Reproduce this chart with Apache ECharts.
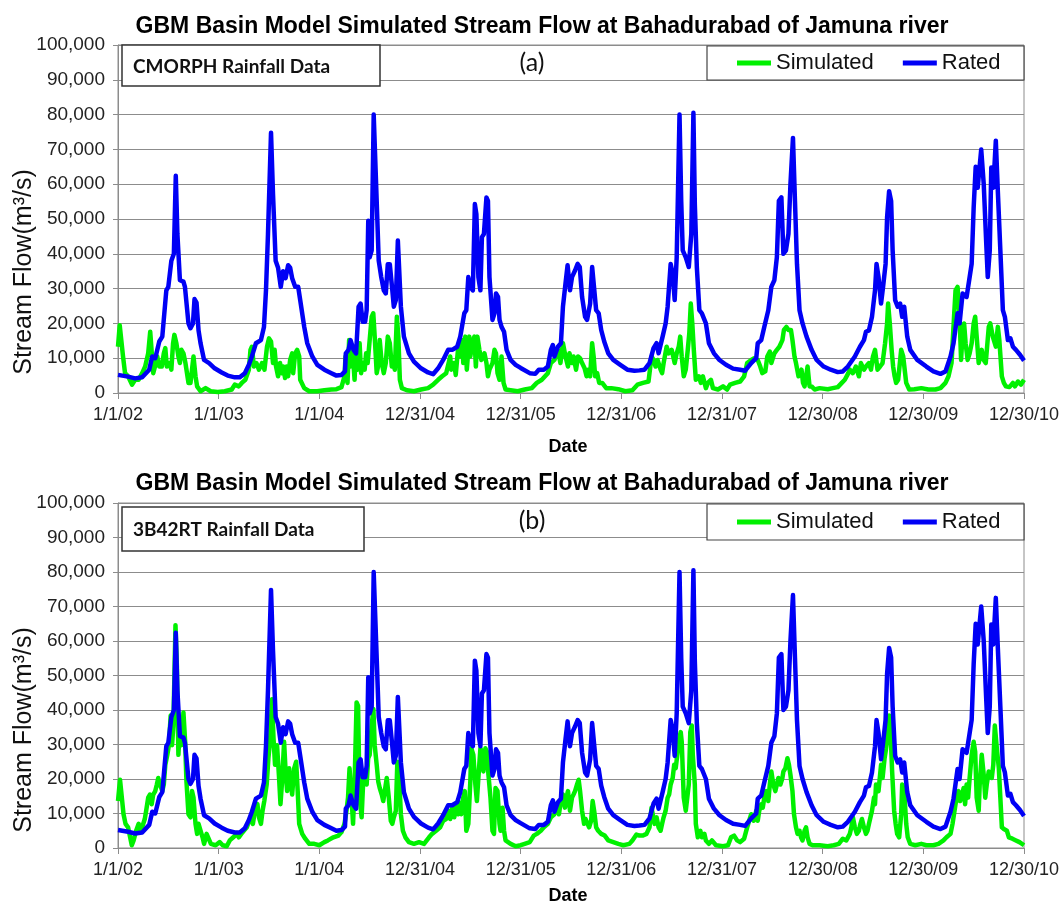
<!DOCTYPE html>
<html>
<head>
<meta charset="utf-8">
<script src="https://cdn.jsdelivr.net/npm/echarts@6/dist/echarts.min.js"></script>
<style>
    html, body { margin: 0; padding: 0; background: #fff; }
    #main { width: 1063px; height: 906px; }
</style>
</head>
<body>
<div id="main"></div>
<script>
const formatter = new Intl.NumberFormat("en-US");

// x = years since 1/1/02, y = stream flow (m3/s)
const dateLabels = ["1/1/02", "1/1/03", "1/1/04", "12/31/04", "12/31/05", "12/31/06", "12/31/07", "12/30/08", "12/30/09", "12/30/10"];

const rated = [
    [0, 5200], [0.1, 4700], [0.17, 4200], [0.24, 4500], [0.31, 6700], [0.34, 10500], [0.37, 10000], [0.41, 14800],
    [0.44, 16200], [0.48, 29500], [0.5, 30500], [0.53, 38000], [0.555, 40000], [0.574, 62400], [0.59, 45700],
    [0.615, 32400], [0.65, 32000], [0.665, 30500], [0.7, 20000], [0.72, 18600], [0.745, 20000], [0.76, 27000],
    [0.78, 26000], [0.8, 18000], [0.82, 14300], [0.855, 9500], [0.905, 8600], [0.96, 7100], [1.03, 5900],
    [1.09, 5000], [1.16, 4500], [1.21, 4500], [1.26, 5700], [1.3, 8100], [1.33, 10500], [1.37, 14300],
    [1.42, 15200], [1.45, 19000], [1.47, 29500], [1.49, 45700], [1.52, 74800], [1.54, 57000], [1.566, 38000],
    [1.59, 36000], [1.617, 30500], [1.64, 35000], [1.665, 33000], [1.69, 36700], [1.71, 36000], [1.73, 33000],
    [1.76, 30500], [1.79, 30500], [1.81, 26700], [1.85, 19000], [1.88, 14300], [1.93, 10500], [1.98, 8100],
    [2.05, 6700], [2.12, 5700], [2.17, 5000], [2.22, 5200], [2.255, 6200], [2.263, 11400], [2.29, 12400],
    [2.31, 15200], [2.325, 15700], [2.34, 12400], [2.365, 11400], [2.39, 24800], [2.41, 25700], [2.43, 20500],
    [2.455, 20500], [2.47, 23800], [2.486, 49500], [2.5, 39000], [2.52, 41000], [2.54, 80000], [2.564, 60000],
    [2.59, 38000], [2.615, 33300], [2.64, 29500], [2.66, 28600], [2.68, 37000], [2.7, 37000], [2.725, 29500],
    [2.74, 24800], [2.76, 26700], [2.78, 43800], [2.795, 43800], [2.81, 24800], [2.84, 16200], [2.89, 11400],
    [2.94, 9000], [3.01, 7100], [3.08, 5900], [3.13, 5400], [3.18, 7100], [3.23, 9500], [3.28, 12400],
    [3.32, 12400], [3.37, 13300], [3.4, 16200], [3.44, 22900], [3.46, 23800], [3.48, 33300], [3.5, 30500],
    [3.525, 29500], [3.545, 54300], [3.56, 51400], [3.58, 33300], [3.6, 29500], [3.615, 44800], [3.635, 45700],
    [3.66, 56200], [3.675, 55200], [3.69, 33300], [3.72, 21000], [3.74, 22900], [3.755, 28600], [3.775, 27600],
    [3.79, 21000], [3.81, 19000], [3.835, 17600], [3.86, 12400], [3.9, 9500], [3.95, 8100], [4.0, 7200],
    [4.09, 5700], [4.145, 5500], [4.18, 6700], [4.23, 6700], [4.27, 7600], [4.3, 12400], [4.32, 13800],
    [4.335, 10500], [4.37, 13300], [4.4, 14300], [4.42, 24800], [4.445, 31400], [4.466, 36700], [4.49, 29500],
    [4.51, 33300], [4.54, 35200], [4.566, 37100], [4.587, 36200], [4.61, 27600], [4.64, 21900], [4.66, 21000],
    [4.69, 25700], [4.71, 36200], [4.725, 36200], [4.75, 23800], [4.775, 22900], [4.8, 18100], [4.83, 14800],
    [4.87, 11400], [4.92, 9500], [4.99, 8100], [5.06, 6700], [5.13, 6400], [5.18, 6500], [5.23, 6700],
    [5.28, 8600], [5.32, 12900], [5.35, 14300], [5.37, 11400], [5.41, 16200], [5.44, 20000], [5.46, 24800],
    [5.49, 37100], [5.51, 34300], [5.53, 26700], [5.55, 39000], [5.578, 80000], [5.595, 55000], [5.61, 41000],
    [5.64, 39000], [5.67, 36200], [5.695, 45700], [5.716, 80500], [5.73, 54300], [5.75, 36200], [5.775, 23800],
    [5.8, 22900], [5.84, 20000], [5.87, 14300], [5.92, 11400], [5.975, 9500], [6.04, 8100], [6.11, 7000],
    [6.18, 6700], [6.23, 6400], [6.29, 8600], [6.34, 10000], [6.355, 14300], [6.39, 15200], [6.42, 19000],
    [6.46, 23800], [6.49, 30500], [6.52, 32400], [6.545, 39000], [6.565, 55200], [6.59, 56200], [6.61, 40000],
    [6.635, 41000], [6.66, 45700], [6.68, 60000], [6.705, 73300], [6.725, 55000], [6.745, 37000], [6.77, 23800],
    [6.8, 20000], [6.84, 16200], [6.89, 12400], [6.94, 9500], [7.01, 7600], [7.08, 6700], [7.15, 6000],
    [7.2, 6200], [7.25, 7600], [7.32, 10500], [7.37, 13300], [7.41, 15200], [7.43, 17600], [7.46, 18000],
    [7.49, 21900], [7.52, 29500], [7.535, 37100], [7.555, 33300], [7.58, 25700], [7.6, 30500], [7.625, 37100],
    [7.64, 50500], [7.66, 58000], [7.68, 55200], [7.695, 41000], [7.72, 26700], [7.745, 24800], [7.77, 25700],
    [7.79, 21900], [7.81, 24800], [7.84, 16200], [7.87, 12400], [7.94, 9500], [8.03, 7600], [8.1, 6200],
    [8.17, 5500], [8.22, 6200], [8.27, 10500], [8.3, 14300], [8.34, 22900], [8.36, 20000], [8.39, 28600],
    [8.43, 27600], [8.46, 33300], [8.48, 37100], [8.5, 53300], [8.52, 65000], [8.54, 59000], [8.575, 70000],
    [8.6, 60000], [8.625, 42900], [8.64, 33300], [8.66, 41000], [8.675, 64800], [8.695, 59000], [8.72, 72500],
    [8.74, 58000], [8.765, 41000], [8.79, 23800], [8.81, 21900], [8.84, 15200], [8.865, 15700], [8.89, 13300],
    [8.92, 12400], [8.96, 11000], [9.0, 9300]
];

// simulated flow, CMORPH rainfall (panel a)
const simulatedCmorph = [
    [0, 13300], [0.017, 19500], [0.033, 19500], [0.05, 10500], [0.07, 5700], [0.1, 4800], [0.14, 2400], [0.17, 3800],
    [0.205, 3800], [0.24, 5700], [0.27, 7600], [0.3, 11400], [0.32, 17600], [0.336, 18000], [0.35, 5700],
    [0.376, 8600], [0.39, 10500], [0.41, 7600], [0.435, 7600], [0.455, 11400], [0.47, 12900], [0.485, 7600],
    [0.51, 8600], [0.53, 6700], [0.547, 14300], [0.56, 16700], [0.58, 14300], [0.6, 10500], [0.615, 8600],
    [0.63, 12400], [0.65, 11400], [0.67, 8600], [0.68, 6700], [0.7, 2900], [0.72, 2900], [0.735, 6700],
    [0.75, 10500], [0.77, 4800], [0.786, 1900], [0.82, 500], [0.87, 1400], [0.92, 500], [0.99, 300], [1.06, 500],
    [1.13, 1000], [1.16, 2400], [1.2, 1900], [1.23, 2900], [1.265, 3800], [1.3, 6700], [1.316, 12400],
    [1.33, 13300], [1.35, 7600], [1.375, 8600], [1.4, 6700], [1.43, 8600], [1.455, 6700], [1.48, 13300],
    [1.5, 15700], [1.52, 14800], [1.54, 8600], [1.556, 12400], [1.57, 7600], [1.59, 4800], [1.61, 8600],
    [1.625, 5700], [1.64, 7600], [1.66, 4300], [1.675, 7600], [1.69, 4800], [1.71, 9500], [1.73, 11400],
    [1.74, 5700], [1.76, 11400], [1.78, 12400], [1.8, 10500], [1.81, 3800], [1.85, 1400], [1.9, 500], [1.98, 500],
    [2.05, 800], [2.12, 1000], [2.17, 1100], [2.22, 1700], [2.25, 4800], [2.26, 10500], [2.28, 2900],
    [2.296, 15200], [2.31, 7600], [2.33, 12400], [2.35, 3800], [2.365, 13300], [2.38, 6700], [2.4, 14300],
    [2.415, 5700], [2.43, 8600], [2.45, 6700], [2.465, 11400], [2.48, 8600], [2.5, 15200], [2.52, 21900],
    [2.536, 22900], [2.55, 16200], [2.57, 5700], [2.59, 8600], [2.6, 15200], [2.62, 8600], [2.64, 5700],
    [2.66, 8600], [2.68, 16200], [2.7, 14300], [2.72, 7600], [2.735, 8600], [2.75, 6700], [2.77, 21900],
    [2.785, 16200], [2.8, 3800], [2.82, 1400], [2.87, 800], [2.94, 500], [3.01, 1000], [3.08, 1400], [3.13, 2400],
    [3.18, 3800], [3.22, 4800], [3.26, 5700], [3.3, 10500], [3.31, 6700], [3.34, 8600], [3.355, 5200],
    [3.38, 13300], [3.395, 10500], [3.42, 15200], [3.43, 8600], [3.45, 16200], [3.465, 6700], [3.49, 16200],
    [3.5, 10500], [3.52, 14300], [3.54, 16200], [3.555, 7600], [3.57, 16200], [3.59, 12400], [3.61, 9500],
    [3.625, 9500], [3.64, 11400], [3.66, 8600], [3.675, 4800], [3.69, 6700], [3.72, 8600], [3.74, 12400],
    [3.755, 11400], [3.77, 5700], [3.79, 3800], [3.81, 10500], [3.83, 2900], [3.85, 1000], [3.9, 800],
    [3.97, 500], [4.04, 1000], [4.11, 1400], [4.16, 2900], [4.21, 3800], [4.27, 5700], [4.3, 8600], [4.335, 9500],
    [4.37, 12400], [4.395, 8600], [4.42, 14300], [4.445, 10500], [4.47, 7600], [4.485, 11400], [4.51, 8600],
    [4.525, 10500], [4.55, 6700], [4.57, 10500], [4.59, 10000], [4.61, 8600], [4.635, 7100], [4.655, 4800],
    [4.67, 6700], [4.69, 4800], [4.71, 14300], [4.725, 10500], [4.74, 4800], [4.76, 5700], [4.78, 2900],
    [4.81, 2900], [4.85, 1400], [4.9, 1400], [4.97, 1100], [5.04, 500], [5.11, 800], [5.16, 2400], [5.215, 2900],
    [5.27, 3300], [5.3, 10500], [5.32, 9500], [5.34, 7600], [5.36, 9500], [5.39, 6700], [5.405, 5700],
    [5.42, 8600], [5.45, 13300], [5.47, 11400], [5.5, 12400], [5.53, 8600], [5.55, 11400], [5.57, 13300],
    [5.585, 16200], [5.6, 10500], [5.62, 4800], [5.64, 6700], [5.66, 12400], [5.675, 17100], [5.69, 25700],
    [5.705, 20000], [5.72, 12400], [5.74, 3800], [5.77, 4800], [5.79, 2900], [5.81, 4800], [5.84, 1400],
    [5.86, 2900], [5.89, 3800], [5.91, 1400], [5.96, 1000], [6.01, 1900], [6.05, 1000], [6.08, 2400],
    [6.13, 2900], [6.18, 3300], [6.22, 4800], [6.25, 8600], [6.29, 9500], [6.32, 10000], [6.355, 9500],
    [6.38, 7600], [6.4, 5700], [6.43, 6200], [6.45, 10500], [6.475, 11900], [6.49, 8600], [6.52, 11400],
    [6.545, 12400], [6.57, 13300], [6.6, 15200], [6.615, 18100], [6.64, 19000], [6.66, 18100], [6.685, 18100],
    [6.7, 15200], [6.72, 10500], [6.735, 8600], [6.76, 4800], [6.79, 6700], [6.805, 2900], [6.82, 1900],
    [6.85, 7600], [6.87, 1900], [6.89, 1900], [6.92, 1000], [6.97, 1400], [7.05, 1100], [7.1, 1400], [7.15, 1700],
    [7.19, 2900], [7.22, 3800], [7.255, 5700], [7.27, 6700], [7.3, 5700], [7.33, 7600], [7.36, 4800],
    [7.38, 8600], [7.41, 6700], [7.43, 7600], [7.46, 8600], [7.48, 6700], [7.5, 10500], [7.52, 12400],
    [7.545, 6700], [7.57, 7600], [7.595, 8600], [7.62, 14300], [7.64, 20000], [7.65, 25700], [7.667, 20000],
    [7.685, 12400], [7.7, 7600], [7.715, 4800], [7.73, 2900], [7.75, 3800], [7.76, 6700], [7.78, 12400],
    [7.8, 10500], [7.83, 2900], [7.86, 1000], [7.91, 1100], [7.98, 1400], [8.05, 1000], [8.12, 1000],
    [8.17, 1400], [8.22, 2900], [8.25, 4800], [8.28, 8600], [8.305, 21900], [8.32, 29500], [8.34, 30500],
    [8.36, 21900], [8.375, 9500], [8.39, 17100], [8.405, 20000], [8.42, 14300], [8.44, 9500], [8.46, 11400],
    [8.48, 14300], [8.5, 20000], [8.515, 21900], [8.53, 16200], [8.55, 8600], [8.565, 8600], [8.58, 12400],
    [8.6, 9500], [8.61, 10000], [8.62, 8600], [8.65, 19000], [8.665, 20000], [8.69, 16200], [8.705, 16200],
    [8.72, 13300], [8.74, 19000], [8.755, 15200], [8.78, 4800], [8.8, 2900], [8.82, 1900], [8.855, 1700],
    [8.89, 2900], [8.91, 1900], [8.94, 3300], [8.97, 2400], [9.0, 3800]
];

// simulated flow, 3B42RT rainfall (panel b)
const simulated3b42 = [
    [0, 13600], [0.02, 19800], [0.037, 19800], [0.055, 9800], [0.075, 7000], [0.1, 6000], [0.137, 800],
    [0.155, 2200], [0.18, 5000], [0.205, 7000], [0.22, 5000], [0.24, 6000], [0.266, 8400], [0.28, 10800],
    [0.3, 14600], [0.317, 15500], [0.335, 12700], [0.35, 15500], [0.37, 16500], [0.386, 18400], [0.4, 20300],
    [0.417, 18400], [0.44, 16500], [0.455, 18400], [0.47, 24100], [0.49, 27000], [0.506, 29800], [0.523, 38400],
    [0.537, 29800], [0.55, 35500], [0.571, 64600], [0.585, 52700], [0.6, 27000], [0.615, 35500], [0.63, 29800],
    [0.65, 39300], [0.667, 30800], [0.68, 19300], [0.7, 9800], [0.72, 8900], [0.735, 16500], [0.75, 14600],
    [0.77, 7000], [0.786, 4100], [0.8, 7000], [0.82, 5000], [0.84, 3100], [0.855, 1200], [0.88, 4100],
    [0.895, 3100], [0.923, 1200], [0.97, 800], [1.01, 1700], [1.04, 800], [1.08, 500], [1.11, 2200],
    [1.145, 3100], [1.18, 4100], [1.2, 3100], [1.225, 4100], [1.25, 5000], [1.28, 6000], [1.316, 8900],
    [1.34, 7000], [1.36, 10800], [1.385, 12700], [1.4, 8900], [1.42, 7000], [1.436, 10800], [1.453, 13600],
    [1.477, 18400], [1.494, 26000], [1.51, 30800], [1.53, 43100], [1.545, 31700], [1.56, 24100], [1.58, 29800],
    [1.6, 20300], [1.614, 12700], [1.63, 19300], [1.65, 30800], [1.665, 22200], [1.68, 16500], [1.7, 23100],
    [1.716, 18400], [1.73, 15500], [1.75, 23100], [1.77, 25000], [1.785, 16500], [1.8, 7000], [1.83, 4100],
    [1.86, 2700], [1.9, 1200], [1.95, 1200], [2.0, 800], [2.05, 1700], [2.085, 2200], [2.14, 3100], [2.19, 3600],
    [2.22, 4600], [2.25, 7000], [2.27, 10800], [2.285, 14600], [2.3, 23100], [2.32, 14600], [2.335, 7000],
    [2.35, 18400], [2.37, 42200], [2.385, 41200], [2.4, 14600], [2.42, 8900], [2.44, 22200], [2.455, 22200],
    [2.47, 18400], [2.485, 26000], [2.5, 27000], [2.52, 35500], [2.537, 40300], [2.55, 29800], [2.57, 24100],
    [2.585, 19300], [2.6, 17400], [2.62, 15500], [2.635, 13600], [2.65, 16500], [2.67, 20300], [2.69, 14600],
    [2.71, 7900], [2.725, 7000], [2.74, 8900], [2.76, 10800], [2.775, 25000], [2.79, 22200], [2.81, 9800],
    [2.83, 5000], [2.855, 3100], [2.89, 1700], [2.94, 1200], [2.99, 1700], [3.04, 1200], [3.09, 3100],
    [3.12, 4100], [3.16, 5000], [3.2, 6000], [3.23, 7900], [3.26, 8400], [3.28, 10800], [3.3, 8400],
    [3.32, 11700], [3.34, 8900], [3.36, 12700], [3.38, 9800], [3.395, 13100], [3.41, 9800], [3.43, 14600],
    [3.445, 16500], [3.46, 5000], [3.48, 7000], [3.5, 19300], [3.51, 28900], [3.53, 27000], [3.55, 18400],
    [3.565, 13600], [3.58, 20300], [3.6, 28900], [3.615, 27900], [3.63, 22200], [3.65, 28900], [3.665, 27900],
    [3.68, 21200], [3.7, 14600], [3.72, 5000], [3.735, 4100], [3.75, 17400], [3.77, 16500], [3.79, 7000],
    [3.8, 5000], [3.82, 11700], [3.835, 5000], [3.85, 2200], [3.9, 1200], [3.95, 500], [4.0, 800], [4.04, 1200],
    [4.09, 1700], [4.13, 3600], [4.16, 4100], [4.2, 5000], [4.23, 6000], [4.27, 7000], [4.3, 8900], [4.335, 9800],
    [4.36, 12700], [4.38, 9800], [4.4, 13600], [4.42, 15500], [4.44, 11700], [4.455, 14600], [4.47, 16500],
    [4.49, 10800], [4.51, 14600], [4.525, 15500], [4.54, 16500], [4.56, 18400], [4.576, 19800], [4.59, 16500],
    [4.61, 10800], [4.63, 7000], [4.645, 8400], [4.66, 8900], [4.68, 6000], [4.7, 7900], [4.715, 13600],
    [4.73, 10800], [4.75, 6000], [4.77, 5000], [4.8, 4100], [4.835, 3600], [4.87, 2200], [4.92, 1700],
    [4.97, 1200], [5.02, 800], [5.08, 1200], [5.11, 2200], [5.15, 3900], [5.18, 3600], [5.215, 3600],
    [5.25, 4100], [5.28, 6000], [5.3, 11700], [5.315, 11200], [5.33, 7000], [5.35, 8900], [5.37, 6000],
    [5.39, 5000], [5.405, 7000], [5.42, 8900], [5.44, 10800], [5.46, 14600], [5.475, 15500], [5.49, 18400],
    [5.51, 20300], [5.525, 24100], [5.54, 23100], [5.56, 27900], [5.575, 31700], [5.59, 33600], [5.6, 30800],
    [5.62, 14600], [5.64, 10800], [5.655, 14600], [5.67, 18400], [5.685, 33600], [5.7, 35500], [5.71, 27000],
    [5.73, 18400], [5.74, 7000], [5.76, 3100], [5.785, 5000], [5.8, 3100], [5.825, 4100], [5.84, 2200],
    [5.87, 1200], [5.9, 2200], [5.94, 800], [6.01, 500], [6.06, 800], [6.09, 3100], [6.12, 3600], [6.15, 2200],
    [6.18, 1700], [6.22, 2700], [6.25, 6000], [6.27, 7900], [6.29, 9800], [6.315, 7900], [6.34, 10800],
    [6.355, 7900], [6.37, 10800], [6.39, 12700], [6.405, 11700], [6.42, 14600], [6.44, 16500], [6.46, 13600],
    [6.475, 18400], [6.49, 22200], [6.51, 18400], [6.53, 16500], [6.545, 16500], [6.56, 20300], [6.58, 18400],
    [6.6, 20300], [6.61, 22200], [6.63, 23100], [6.65, 26000], [6.665, 24100], [6.68, 21200], [6.7, 16500],
    [6.715, 9800], [6.735, 6000], [6.75, 4100], [6.77, 5000], [6.785, 3100], [6.8, 2200], [6.82, 5000],
    [6.835, 6000], [6.85, 3100], [6.87, 1200], [6.9, 800], [6.97, 800], [7.05, 500], [7.11, 800], [7.16, 1200],
    [7.2, 2700], [7.235, 2200], [7.27, 4100], [7.285, 6000], [7.3, 8900], [7.32, 6000], [7.34, 4100],
    [7.36, 5000], [7.375, 7000], [7.39, 8400], [7.41, 6000], [7.43, 4100], [7.445, 5000], [7.46, 7000],
    [7.475, 8900], [7.49, 10800], [7.51, 14600], [7.52, 12700], [7.53, 18400], [7.555, 16500], [7.58, 24100],
    [7.595, 20300], [7.615, 26000], [7.63, 28900], [7.65, 33600], [7.66, 38400], [7.675, 33600], [7.69, 22200],
    [7.71, 10800], [7.725, 7000], [7.74, 4100], [7.76, 3100], [7.78, 9800], [7.79, 18400], [7.81, 16500],
    [7.83, 7000], [7.845, 3100], [7.87, 1200], [7.92, 800], [7.98, 1200], [8.03, 800], [8.1, 800], [8.15, 1200],
    [8.2, 2200], [8.23, 3100], [8.27, 4100], [8.29, 7000], [8.31, 10800], [8.33, 14600], [8.35, 16500],
    [8.365, 13600], [8.38, 14600], [8.4, 17400], [8.415, 12700], [8.43, 18400], [8.445, 14600], [8.46, 20300],
    [8.48, 27000], [8.5, 30800], [8.515, 27900], [8.53, 14600], [8.55, 10800], [8.56, 18400], [8.58, 27000],
    [8.6, 21200], [8.615, 14600], [8.63, 18400], [8.65, 22200], [8.68, 20300], [8.695, 24100], [8.71, 35500],
    [8.73, 28900], [8.75, 23100], [8.765, 14600], [8.78, 6000], [8.8, 5500], [8.83, 5000], [8.85, 3100],
    [8.885, 2700], [8.92, 2200], [8.955, 1700], [9.0, 800]
];

const chartTitle = "GBM Basin Model Simulated Stream Flow at Bahadurabad of Jamuna river";
const panelNotes = ["CMORPH Rainfall Data", "3B42RT Rainfall Data"];
const panelTags = ["(a)", "(b)"];

const chart = echarts.init(document.getElementById("main"));

const panels = [
    { top: 45, height: 348, sim: simulatedCmorph, noteBox: [122, 45, 258, 41], tagY: 63, legendTop: 52, legendBox: [707, 46, 317, 34], titleY: 27, nameY: 272, dateY: 447 },
    { top: 503, height: 345, sim: simulated3b42, noteBox: [122, 507, 242, 44], tagY: 521, legendTop: 511, legendBox: [707, 504, 317, 36], titleY: 484, nameY: 730, dateY: 896 }
];

const axisGray = "#8c8c8c";
const labelFont = "Liberation Sans, Arial, sans-serif";

const option = {
    animation: false,
    backgroundColor: "#fff",
    grid: panels.map(p => ({
        left: 118, width: 906, top: p.top, height: p.height,
        show: true, borderColor: axisGray, borderWidth: 1, backgroundColor: "#fff"
    })),
    xAxis: panels.map((p, i) => ({
        type: "value", gridIndex: i, min: 0, max: 9, interval: 1,
        axisLine: { lineStyle: { color: axisGray } },
        axisTick: { length: 6, lineStyle: { color: axisGray } },
        splitLine: { show: false },
        axisLabel: {
            margin: 13, fontSize: 18, color: "#222", fontFamily: labelFont,
            showMinLabel: true, showMaxLabel: true,
            formatter: (v) => dateLabels[Math.round(v)]
        }
    })),
    yAxis: panels.map((p, i) => ({
        type: "value", gridIndex: i, min: 0, max: 100000, interval: 10000,
        axisLine: { show: true, lineStyle: { color: axisGray } },
        axisTick: { show: true, length: 5, lineStyle: { color: axisGray } },
        splitLine: { lineStyle: { color: axisGray, width: 1 } },
        axisLabel: {
            margin: 13, fontSize: 19, color: "#222", fontFamily: labelFont,
            formatter: (v) => formatter.format(v)
        }
    })),
    legend: panels.map(p => ({
        data: ["Simulated", "Rated"],
        left: 737, top: p.legendTop, padding: 0,
        icon: "rect", itemWidth: 34, itemHeight: 5, itemGap: 29,
        textStyle: { fontSize: 22, color: "#111", fontFamily: labelFont },
        z: 6
    })),
    series: [],
    graphic: []
};

panels.forEach((p, i) => {
    option.series.push({
        name: "Simulated", type: "line", xAxisIndex: i, yAxisIndex: i,
        data: p.sim, showSymbol: false, symbol: "none",
        lineStyle: { color: "#00f000", width: 4.5, join: "round" },
        itemStyle: { color: "#00f000" }
    });
    option.series.push({
        name: "Rated", type: "line", xAxisIndex: i, yAxisIndex: i,
        data: rated, showSymbol: false, symbol: "none",
        lineStyle: { color: "#0000f5", width: 4.5, join: "round" },
        itemStyle: { color: "#0000f5" }
    });

    option.graphic.push(
        {
            type: "text", x: 542, y: p.titleY, z: 5,
            style: { text: chartTitle, font: "bold 23px " + labelFont, fill: "#000", textAlign: "center", textVerticalAlign: "middle" }
        },
        {
            type: "rect", z: 3,
            shape: { x: p.noteBox[0], y: p.noteBox[1], width: p.noteBox[2], height: p.noteBox[3] },
            style: { fill: "#fff", stroke: "#333", lineWidth: 1.5 }
        },
        {
            type: "text", x: p.noteBox[0] + 11, y: p.noteBox[1] + p.noteBox[3] / 2 + 1, z: 5,
            style: { text: panelNotes[i], font: "bold 19px Lato, sans-serif", fill: "#111", textAlign: "left", textVerticalAlign: "middle" }
        },
        {
            type: "text", x: 532, y: p.tagY, z: 5,
            style: { text: panelTags[i], font: "25px Lato, sans-serif", fill: "#111", textAlign: "center", textVerticalAlign: "middle" }
        },
        {
            type: "rect", z: 3,
            shape: { x: p.legendBox[0], y: p.legendBox[1], width: p.legendBox[2], height: p.legendBox[3] },
            style: { fill: "#fff", stroke: "#444", lineWidth: 1.2 }
        },
        {
            type: "text", x: 24, y: p.nameY, rotation: Math.PI / 2, z: 5,
            style: { text: "Stream Flow(m³/s)", font: "25px " + labelFont, fill: "#111", textAlign: "center", textVerticalAlign: "middle" }
        },
        {
            type: "text", x: 568, y: p.dateY, z: 5,
            style: { text: "Date", font: "bold 18px " + labelFont, fill: "#000", textAlign: "center", textVerticalAlign: "middle" }
        }
    );
});

chart.setOption(option);
</script>
</body>
</html>
